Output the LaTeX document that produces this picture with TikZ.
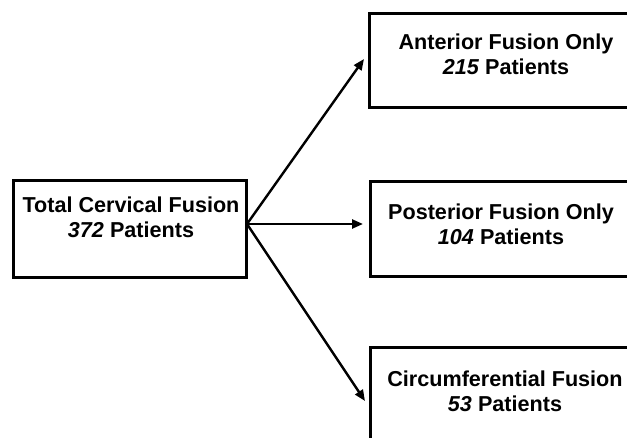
\documentclass[tikz,border=0pt]{standalone}
\usepackage{fontspec}
\setmainfont{Liberation Sans}
\usetikzlibrary{arrows.meta}
\tikzset{
  box/.style={draw=black, line width=3pt, fill=white, inner sep=0pt, align=center,
    font=\fontsize{21.6}{25.5}\selectfont\bfseries},
  lbl/.style={font=\fontsize{21.6}{25.5}\selectfont\bfseries, align=center, inner sep=0pt},
  conn/.style={line width=2.4pt, -{Triangle[length=11pt,width=9pt]}, shorten >=0pt}
}
\begin{document}
\begin{tikzpicture}[x=1pt,y=-1pt]
\clip (0,0) rectangle (627,438);
\fill[white] (0,0) rectangle (627,438);
\node[box, minimum width=233pt, minimum height=97pt] (total) at (129.5,229.5) {};
\node[lbl, anchor=base] (totalt) at (131,238) {Total Cervical Fusion\\\textit{372} Patients};
\node[box, minimum width=274pt, minimum height=94pt] (ant) at (506,61) {};
\node[lbl, anchor=base] (antt) at (506,75) {Anterior Fusion Only\\\textit{215} Patients};
\node[box, minimum width=262pt, minimum height=95pt] (post) at (501,229.5) {};
\node[lbl, anchor=base] (postt) at (501,245) {Posterior Fusion Only\\\textit{104} Patients};
\node[box, minimum width=270pt, minimum height=150pt] (circ) at (505,423) {};
\node[lbl, anchor=base] (circt) at (505,412) {Circumferential Fusion\\\textit{53} Patients};
\coordinate (src) at (247,224);
\coordinate (t1) at (364,59);
\coordinate (t2) at (363,224);
\coordinate (t3) at (365,401);
\draw[conn] (src) -- (t1);
\draw[conn] (src) -- (t2);
\draw[conn] (src) -- (t3);
\end{tikzpicture}
\end{document}
